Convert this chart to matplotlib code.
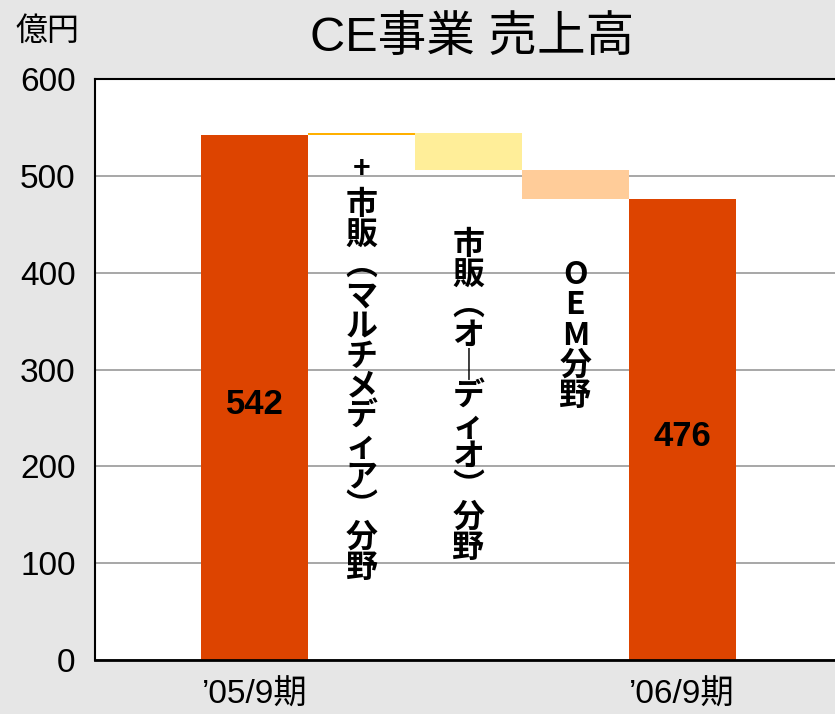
import matplotlib
matplotlib.use("Agg")
import matplotlib.pyplot as plt
import numpy as np

# データ
start_label = "’05/9期"
end_label = "’06/9期"
start_value = 542
end_value = 476
changes = [2, -38, -30]
change_colors = ["#ffb000", "#ffee99", "#ffcc99"]
change_signs = ["+", "", ""]
change_labels = [
    "市\n販\n︵\nマ\nル\nチ\nメ\nデ\nィ\nア\n︶\n分\n野",
    "市\n販\n︵\nオ\n｜\nデ\nィ\nオ\n︶\n分\n野",
    "O\nE\nM\n分\n野",
]
label_tops = [486, 445, 414]
yticks = [0, 100, 200, 300, 400, 500, 600]

latin_cjk = ["Liberation Sans", "Noto Sans CJK JP"]
cjk = ["Noto Sans CJK JP", "DejaVu Sans"]
plt.rcParams["font.family"] = latin_cjk

bg = "#e6e6e6"
fig = plt.figure(figsize=(8.35, 7.14), dpi=100, facecolor=bg)
ax = fig.add_axes([95 / 835, 54 / 714, 1 - 95 / 835, (660 - 79) / 714])
ax.set_facecolor("white")

# 棒
x = np.arange(len(changes) + 2)
ax.bar(x[0], start_value, width=1.0, color="#dd4400", zorder=2)
ax.bar(x[-1], end_value, width=1.0, color="#dd4400", zorder=2)
level = start_value
for i, (d, c) in enumerate(zip(changes, change_colors)):
    lo, hi = min(level, level + d), max(level, level + d)
    ax.bar(x[i + 1], hi - lo, bottom=lo, width=1.0, color=c, zorder=2)
    level += d

# 数値ラベル
for xi, v in [(x[0], start_value), (x[-1], end_value)]:
    ax.text(xi, v / 2 - 7, str(v), ha="center", va="center",
            fontsize=25, fontweight="bold", family="Liberation Sans", zorder=3)

# 縦書きラベル
for i, (lab, top, sign) in enumerate(zip(change_labels, label_tops, change_signs)):
    ax.text(x[i + 1], top, lab, ha="center", va="top", fontsize=23,
            fontweight="bold", family=cjk, linespacing=0.93, zorder=3)
    if sign:
        ax.text(x[i + 1], 507, sign, ha="center", va="center", fontsize=22,
                fontweight="bold", family="Liberation Sans", zorder=3)

ax.set_xlim(-1.495, 5.43)
ax.set_ylim(0, 600)
ax.set_yticks(yticks)
ax.set_yticklabels([str(t) for t in yticks], fontsize=24)
ax.set_xticks([x[0], x[-1]])
ax.set_xticklabels([start_label, end_label], fontsize=24)
ax.tick_params(axis="both", length=0)
ax.tick_params(axis="y", pad=14)
ax.tick_params(axis="x", pad=14)
ax.yaxis.grid(True, color="#a0a0a0", linewidth=1.3)
ax.set_axisbelow(True)
for s in ["left", "top", "bottom"]:
    ax.spines[s].set_color("black")
ax.spines["left"].set_linewidth(1.5)
ax.spines["top"].set_linewidth(1.5)
ax.spines["bottom"].set_linewidth(2)
ax.spines["right"].set_visible(False)

fig.text(0.565, 0.946, "CE事業 売上高", ha="center", va="center", fontsize=35)
fig.text(0.018, 0.957, "億円", ha="left", va="center", fontsize=23, family=cjk)

fig.savefig("out.png", dpi=100, facecolor=bg)
